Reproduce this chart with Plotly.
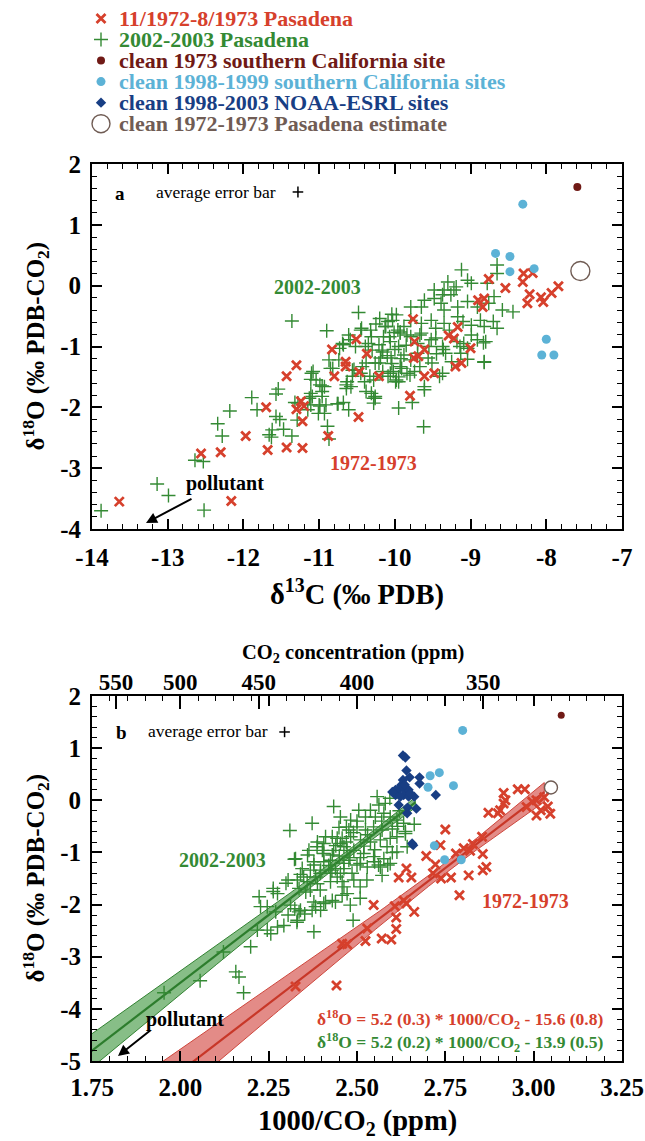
import numpy as np
import plotly.graph_objects as go

W, H = 645, 1141
FONT = "Liberation Serif"
RED = "rgb(214,64,44)"
GREEN = "rgb(52,138,52)"
DKRED = "rgb(112,26,22)"
LTBLUE = "rgb(92,178,214)"
DKBLUE = "rgb(24,62,132)"
CIRC = "rgb(112,92,84)"

# ---------------- Panel a data (d13C, d18O) ----------------
red_a_x = [-13.64, -12.16, -12.56, -12.30, -11.97, -11.68, -11.43, -11.22, -10.88, -11.70,
           -11.30, -11.24, -11.20, -11.22, -10.48, -11.43, -11.30, -10.83, -10.80, -10.51,
           -10.65, -10.65, -10.37, -10.47, -10.21, -9.74, -9.75, -9.69, -9.61, -9.61,
           -9.48, -9.80, -9.29, -9.22, -9.20, -9.12, -9.00, -9.76, -9.17, -8.90,
           -8.82, -8.84, -8.76, -8.54, -8.31, -8.30, -8.18, -8.22, -8.25, -8.07,
           -8.04, -7.93, -7.84]
red_a_y = [-3.55, -3.54, -2.76, -2.74, -2.47, -2.70, -2.66, -2.67, -2.47, -2.00,
           -2.03, -1.90, -1.98, -2.23, -2.16, -1.49, -1.31, -1.05, -1.49, -0.88,
           -1.25, -1.33, -1.12, -1.42, -1.49, -0.92, -1.19, -1.16, -1.05, -1.49,
           -1.44, -1.81, -0.82, -0.87, -1.33, -1.27, -1.03, -0.55, -0.68, -0.24,
           -0.21, -0.35, 0.11, -0.04, 0.06, 0.20, 0.21, -0.14, -0.29, -0.19,
           -0.27, -0.12, -0.01]

green_a_x = [-13.88, -13.14, -12.99, -12.52, -12.64, -12.53, -12.34, -12.28, -12.18, -11.89,
             -11.82, -11.57, -11.54, -11.57, -11.52, -11.47, -11.36, -11.66, -11.63, -11.62,
             -11.29, -11.32, -11.15, -11.11, -10.99, -10.96, -10.96, -10.89, -10.87, -11.01,
             -10.93, -11.11, -11.11, -11.08, -10.99, -11.13, -10.75, -10.68, -10.61, -10.64,
             -10.63, -10.64, -10.56, -10.40, -10.31, -10.28, -10.33, -10.21, -10.16, -10.09,
             -9.99, -9.95, -9.62, -9.61, -9.77, -10.05, -10.00, -9.88, -9.51, -9.41,
             -9.56, -9.36, -9.13, -9.04, -8.82, -8.80, -9.04, -10.87, -10.82, -10.73,
             -10.68, -10.59, -10.45, -10.31, -10.21, -10.07, -9.93, -9.79, -9.65, -9.46,
             -9.18, -8.99, -9.84, -9.74, -9.67, -9.91, -10.02, -10.26, -10.38, -10.45,
             -10.54, -10.38, -10.26, -9.98,
             -11.36, -10.90, -10.48, -10.44, -10.20, -10.25, -10.32, -10.04, -9.98, -10.09,
             -10.01, -9.93, -10.15, -10.06, -9.95, -9.88, -10.61, -10.69, -10.52, -10.39,
             -10.30, -10.17, -10.74, -10.85, -10.56, -10.58, -10.93, -11.04, -11.10, -11.09,
             -10.96, -10.26, -10.28, -10.76, -11.00, -10.91, -11.28, -10.12, -9.84, -10.19,
             -10.04, -9.93, -9.95, -9.95, -10.06, -10.43, -10.28,
             -8.65, -9.12, -9.30, -9.04, -8.99, -8.78, -8.65, -8.44, -8.58, -8.69,
             -8.76, -8.70, -8.65, -8.82, -8.91, -8.83, -8.82, -9.19, -9.22, -9.26,
             -9.37, -9.48, -9.61, -9.65, -9.79, -9.39, -9.35, -9.17, -9.04, -8.91,
             -9.17, -9.10, -8.99, -9.35, -9.52, -9.65, -9.46, -9.28, -10.03, -10.13,
             -9.96, -9.67, -9.52, -9.37, -10.16, -9.92, -9.79, -9.80, -9.37, -9.61,
             -8.87, -9.14, -9.09, -9.33, -9.70, -9.35, -9.48, -9.79,
             -10.35, -9.85, -9.55, -9.70, -10.10, -9.45, -9.25]
green_a_y = [-3.70, -3.26, -3.45, -3.69, -2.87, -2.89, -2.27, -2.47, -2.06, -1.84,
             -2.04, -1.78, -1.70, -2.15, -2.20, -2.36, -2.47, -2.45, -2.49, -2.37,
             -2.21, -1.92, -2.04, -1.96, -1.98, -1.65, -1.74, -2.31, -2.52, -2.10,
             -2.10, -1.77, -1.54, -1.41, -1.63, -1.85, -1.94, -1.92, -2.04, -1.63,
             -1.58, -1.69, -1.49, -1.58, -1.77, -1.85, -1.49, -1.27, -1.41, -1.49,
             -1.58, -2.01, -2.32, -1.71, -1.92, -1.19, -1.05, -1.14, -1.27, -1.49,
             -1.19, -1.05, -1.11, -1.03, -1.26, -0.92, -1.21, -1.22, -1.36, -1.03,
             -0.97, -0.89, -0.73, -0.84, -0.97, -0.84, -0.78, -0.84, -0.78, -0.86,
             -0.92, -0.81, -1.44, -1.41, -1.33, -1.36, -1.41, -1.27, -1.27, -1.44,
             -1.38, -1.74, -1.82, -1.55,
             -0.58, -0.74, -0.44, -0.70, -0.54, -0.63, -0.73, -0.47, -0.48, -0.59,
             -0.77, -0.76, -0.84, -0.92, -1.00, -0.67, -0.81, -0.95, -1.00, -1.00,
             -1.06, -1.06, -1.22, -1.36, -1.39, -1.66, -1.66, -1.55, -1.44, -1.82,
             -1.82, -1.85, -1.93, -1.94, -1.96, -1.96, -1.93, -0.67, -0.81, -1.19,
             -1.28, -1.33, -1.50, -1.58, -1.44, -1.33, -1.55,
             0.34, 0.26, 0.06, 0.09, 0.04, 0.04, 0.20, -0.43, -0.40, -0.18,
             -0.29, -0.59, -0.70, -0.67, -0.89, -0.94, -1.25, -0.02, -0.07, -0.15,
             -0.15, -0.21, -0.24, -0.35, -0.35, -0.29, -0.40, -0.35, -0.26, -0.35,
             -0.51, -0.59, -0.65, -0.62, -0.57, -0.62, -0.70, -0.73, -0.57, -0.67,
             -0.73, -0.81, -0.89, -1.00, -1.09, -1.20, -1.22, -1.47, -1.44, -1.66,
             -0.57, -1.00, -0.95, -1.11, -1.11, -0.07, -0.07, -0.57,
             -0.95, -0.98, -1.00, -0.95, -1.15, -1.12, -1.25]

ltblue_a_x = [-8.67, -8.48, -8.48, -8.16, -8.31, -8.00, -8.06, -7.90]
ltblue_a_y = [0.53, 0.48, 0.23, 0.28, 1.34, -0.88, -1.14, -1.14]
dkred_a_x, dkred_a_y = [-7.59], [1.62]
circ_a_x, circ_a_y = [-7.55], [0.24]

# ---------------- Panel b data (1000/CO2, d18O) ----------------
red_b_x = [2.955, 2.975, 2.915, 3.030, 2.920, 3.008, 2.996, 2.915, 3.040, 2.980,
           2.905, 3.020, 2.872, 3.047, 3.008, 2.750, 2.854, 2.828, 2.736, 2.802,
           2.856, 2.696, 2.722, 2.866, 2.640, 2.856, 2.715, 2.816, 2.618, 2.654,
           2.766, 2.738, 2.790, 2.632, 2.640, 2.547, 2.607, 2.662, 2.611, 2.529,
           2.611, 2.570, 2.597, 2.524, 2.458, 2.472, 2.442, 2.326, 2.780, 2.820,
           2.899]
red_b_y = [0.21, 0.21, 0.14, 0.06, 0.00, 0.00, -0.03, -0.06, -0.12, -0.13,
           -0.19, -0.19, -0.24, -0.26, -0.29, -0.56, -0.70, -0.84, -0.86, -0.92,
           -1.03, -1.07, -1.23, -1.28, -1.31, -1.34, -1.40, -1.44, -1.48, -1.48,
           -1.48, -1.50, -1.82, -1.92, -1.98, -2.01, -2.03, -2.14, -2.25, -2.46,
           -2.47, -2.65, -2.67, -2.70, -2.75, -2.76, -3.55, -3.57, -1.02, -0.97,
           -0.25]

green_b_x = [2.373, 2.310, 2.323, 2.345, 2.340, 2.364, 2.388, 2.402, 2.378, 2.406,
             2.397, 2.430, 2.444, 2.470, 2.453, 2.411, 2.439, 2.463, 2.444, 2.458,
             2.425, 2.383, 2.359, 2.305, 2.331, 2.336, 2.263, 2.275, 2.223, 2.227,
             2.246, 2.270, 2.305, 2.336, 2.352, 2.331, 2.293, 2.275, 2.246, 2.256,
             2.378, 2.383, 2.406, 2.430, 2.397, 2.312, 2.199, 2.388, 2.472, 2.477,
             2.463, 2.425, 2.355,
             2.557, 2.593, 2.562, 2.538, 2.505, 2.524, 2.552, 2.576, 2.594, 2.613,
             2.632, 2.662, 2.637, 2.613, 2.594, 2.571, 2.547, 2.524, 2.500, 2.477,
             2.449, 2.430, 2.458, 2.482, 2.510, 2.538, 2.566, 2.585, 2.613, 2.642,
             2.637, 2.406, 2.387, 2.406, 2.434, 2.463, 2.491, 2.519, 2.547, 2.576,
             2.594, 2.566, 2.529, 2.500, 2.463, 2.425, 2.378, 2.326, 2.434, 2.580,
             2.482, 2.453,
             2.489, 2.439, 2.411, 2.481, 2.378, 2.509, 2.472, 2.458, 2.396, 2.368,
             2.528, 2.509, 2.491, 2.571, 2.561, 2.587, 2.509, 2.486, 2.453, 2.429,
             2.396, 2.368, 2.349, 2.340, 2.373,
             1.954, 2.056, 2.122, 2.157, 2.166, 2.179, 2.218, 2.263, 2.299, 2.324,
             2.330,
             2.520, 2.550, 2.600, 2.490, 2.450, 2.530, 2.570, 2.620, 2.510, 2.480,
             2.440, 2.600, 2.420, 2.360, 2.500, 2.615, 2.550, 2.470]
green_b_y = [-0.44, -0.58, -1.13, -1.31, -1.42, -0.96, -0.80, -0.96, -1.18, -1.18,
             -1.34, -1.05, -0.73, -0.51, -0.83, -0.70, -1.31, -1.31, -1.47, -1.56,
             -1.56, -1.47, -1.56, -1.53, -1.53, -1.69, -1.69, -1.79, -1.85, -2.04,
             -2.04, -2.14, -2.20, -2.14, -2.18, -2.30, -2.40, -2.43, -2.49, -2.56,
             -2.52, -2.04, -1.98, -1.92, -2.11, -2.01, -2.81, -1.60, -0.96, -1.15,
             -1.66, -1.40, -1.76,
             0.07, 0.04, -0.09, -0.19, -0.19, -0.32, -0.32, -0.25, -0.32, -0.38,
             -0.44, -0.46, -0.60, -0.70, -0.73, -0.57, -0.51, -0.57, -0.51, -0.57,
             -0.52, -0.70, -0.73, -0.70, -0.76, -0.80, -0.76, -0.89, -0.99, -0.89,
             -0.64, -0.83, -0.89, -1.02, -0.96, -0.89, -0.96, -1.02, -1.08, -1.12,
             -1.21, -1.28, -1.28, -1.24, -1.21, -1.15, -1.24, -1.12, -0.12, -0.06,
             -0.38, -0.32,
             -2.30, -1.95, -1.95, -2.01, -1.95, -1.88, -1.79, -1.82, -1.72, -1.72,
             -1.53, -1.66, -1.53, -1.44, -1.24, -1.24, -1.21, -1.40, -1.40, -1.34,
             -1.40, -1.34, -1.47, -2.11, -2.11,
             -3.69, -3.46, -2.91, -3.29, -3.39, -3.69, -2.49, -1.75, -1.59, -2.08,
             -2.34,
             -0.88, -0.95, -0.55, -0.62, -1.07, -0.66, -0.40, -0.20, -1.10, -1.10,
             -0.87, -1.00, -1.25, -1.05, -0.40, -0.50, -1.18, -0.80]

ltblue_b_x = [2.799, 2.707, 2.733, 2.701, 2.773, 2.719, 2.748, 2.795]
ltblue_b_y = [1.34, 0.47, 0.53, 0.25, 0.28, -0.87, -1.14, -1.14]
dkblue_b_x = [2.630, 2.637, 2.640, 2.649, 2.677, 2.677, 2.630, 2.625, 2.618, 2.609,
              2.637, 2.646, 2.632, 2.609, 2.623, 2.646, 2.662, 2.723, 2.618, 2.643,
              2.668, 2.642, 2.656, 2.659, 2.651, 2.635, 2.600]
dkblue_b_y = [0.86, 0.82, 0.57, 0.44, 0.44, 0.32, 0.39, 0.29, 0.20, 0.20,
              0.20, 0.20, 0.10, 0.10, 0.07, 0.07, 0.07, 0.10, -0.09, -0.14,
              -0.16, -0.25, -0.83, -0.86, 0.13, 0.30, 0.16]
dkred_b_x, dkred_b_y = [3.078], [1.63]
circ_b_x, circ_b_y = [3.049], [0.245]

# regression fits (panel b): slope, intercept, band parameters
red_fit = dict(slope=5.2, icpt=-15.6, xmin=1.95, xmax=3.03, xbar=2.75, s0=0.10, s1=0.55)
green_fit = dict(slope=5.2, icpt=-13.9, xmin=1.70, xmax=2.665, xbar=2.50, s0=0.07, s1=0.42)

co2_ticks = [550, 500, 450, 400, 350]
xa_ticks = [-14, -13, -12, -11, -10, -9, -8, -7]
ya_ticks = [-4, -3, -2, -1, 0, 1, 2]
xb_ticks = [1.75, 2.00, 2.25, 2.50, 2.75, 3.00, 3.25]
yb_ticks = [-5, -4, -3, -2, -1, 0, 1, 2]

# ---------------- figure ----------------
def px(x):
    return x / W

def py(y):
    return 1 - y / H

XD = [px(92), px(622)]
YA = [py(529), py(164)]
YB = [py(1061), py(696)]
LEG_BOTTOM = 140

fig = go.Figure()

XM = dict(symbol="x-thin", size=9, color=RED, line=dict(width=2.8, color=RED))
PM = dict(symbol="cross-thin", size=10, color=GREEN, line=dict(width=1.4, color=GREEN))

def xmark(x, y, xa, ya):
    fig.add_trace(go.Scatter(x=x, y=y, xaxis=xa, yaxis=ya, mode="markers", showlegend=False,
                             marker=XM))

def plus(x, y, xa, ya):
    fig.add_trace(go.Scatter(x=x, y=y, xaxis=xa, yaxis=ya, mode="markers", showlegend=False,
                             marker=PM))

def dots(x, y, xa, ya, color, size, symbol="circle"):
    fig.add_trace(go.Scatter(x=x, y=y, xaxis=xa, yaxis=ya, mode="markers", showlegend=False,
                             marker=dict(symbol=symbol, size=size, color=color, line=dict(width=0))))

def opencirc(x, y, xa, ya, size):
    fig.add_trace(go.Scatter(x=x, y=y, xaxis=xa, yaxis=ya, mode="markers", showlegend=False,
                             marker=dict(symbol="circle-open", size=size, color=CIRC,
                                         line=dict(width=1.4, color=CIRC))))

def errplus(x, y, ex, ey, xa, ya):
    fig.add_trace(go.Scatter(x=[x], y=[y], xaxis=xa, yaxis=ya, mode="markers", showlegend=False,
                             marker=dict(size=1, color="black"),
                             error_x=dict(type="data", array=[ex], width=0, thickness=1.5, color="black"),
                             error_y=dict(type="data", array=[ey], width=0, thickness=1.5, color="black")))

# Panel a
plus(green_a_x, green_a_y, "x", "y")
xmark(red_a_x, red_a_y, "x", "y")
dots(ltblue_a_x, ltblue_a_y, "x", "y", LTBLUE, 9)
dots(dkred_a_x, dkred_a_y, "x", "y", DKRED, 8)
opencirc(circ_a_x, circ_a_y, "x", "y", 19)
errplus(-11.28, 1.54, 0.07, 0.09, "x", "y")

# Panel b bands
def band(p, fill, edge, line):
    xs = np.linspace(p["xmin"], p["xmax"], 80)
    yc = p["slope"] * xs + p["icpt"]
    hw = np.sqrt(p["s0"] ** 2 + ((xs - p["xbar"]) * p["s1"]) ** 2)
    fig.add_trace(go.Scatter(x=np.concatenate([xs, xs[::-1]]).tolist(),
                             y=np.concatenate([yc + hw, (yc - hw)[::-1]]).tolist(),
                             xaxis="x2", yaxis="y2", mode="lines", fill="toself",
                             fillcolor=fill, line=dict(color=edge, width=1), showlegend=False))
    fig.add_trace(go.Scatter(x=xs.tolist(), y=yc.tolist(), xaxis="x2", yaxis="y2", mode="lines",
                             line=dict(color=line, width=2.2), showlegend=False))

band(green_fit, "rgba(70,155,70,0.65)", "rgb(50,130,50)", "rgb(45,125,45)")
band(red_fit, "rgba(218,100,95,0.75)", "rgb(205,70,60)", "rgb(200,55,40)")

plus(green_b_x, green_b_y, "x2", "y2")
xmark(red_b_x, red_b_y, "x2", "y2")
dots(dkblue_b_x, dkblue_b_y, "x2", "y2", DKBLUE, 8, "diamond")
dots(ltblue_b_x, ltblue_b_y, "x2", "y2", LTBLUE, 9)
dots(dkred_b_x, dkred_b_y, "x2", "y2", DKRED, 7)
opencirc(circ_b_x, circ_b_y, "x2", "y2", 13)
errplus(2.295, 1.31, 0.015, 0.1, "x2", "y2")

# invisible trace for the top CO2 axis
fig.add_trace(go.Scatter(x=[2.5], y=[0], xaxis="x3", yaxis="y2", mode="markers",
                         marker=dict(size=1, opacity=0), showlegend=False, hoverinfo="skip"))

# Legend (manual): symbols on a hidden pixel axis, text as one multi-line block
LEG_SPACING = 21.06
LEG_BASE = LEG_SPACING / 1.3
legend_rows = [18.4 + i * LEG_SPACING for i in range(6)]
legend_items = [
    ("11/1972-8/1973 Pasadena", RED, XM),
    ("2002-2003 Pasadena", GREEN, PM),
    ("clean 1973 southern California site", DKRED, dict(symbol="circle", size=8, color=DKRED)),
    ("clean 1998-1999 southern California sites", LTBLUE, dict(symbol="circle", size=9, color=LTBLUE)),
    ("clean 1998-2003 NOAA-ESRL sites", DKBLUE, dict(symbol="diamond", size=8, color=DKBLUE)),
    ("clean 1972-1973 Pasadena estimate", CIRC, dict(symbol="circle-open", size=18, color=CIRC, line=dict(width=1.4, color=CIRC))),
]
annotations = []
lines = []
for (label, col, mk), row in zip(legend_items, legend_rows):
    fig.add_trace(go.Scatter(x=[101], y=[row], xaxis="x4", yaxis="y4", mode="markers",
                             marker=mk, showlegend=False, hoverinfo="skip"))
    lines.append("<span style='color:%s;font-size:22px'><b>%s</b></span>" % (col, label))
annotations.append(dict(x=px(117), y=py(sum(legend_rows) / 6.0), xref="paper", yref="paper",
                        xanchor="left", yanchor="middle", align="left", showarrow=False,
                        text="<br>".join(lines),
                        font=dict(family=FONT, size=LEG_BASE, color="black")))

def txt(x, y, s, size, color="black", xanchor="center", angle=0):
    annotations.append(dict(x=px(x), y=py(y), xref="paper", yref="paper", xanchor=xanchor,
                            yanchor="middle", showarrow=False, text=s, textangle=angle,
                            font=dict(family=FONT, size=size, color=color)))

def arrow(hx, hy, tx, ty):
    annotations.append(dict(x=px(hx), y=py(hy), xref="paper", yref="paper", ax=tx - hx, ay=ty - hy,
                            axref="pixel", ayref="pixel", text="", showarrow=True, arrowhead=2,
                            arrowsize=1.1, arrowwidth=2, arrowcolor="black"))

# Panel a annotations
txt(120, 193, "<b>a</b>", 19)
txt(216, 192, "average error bar", 17.5)
txt(317, 287, "<b>2002-2003</b>", 20, GREEN)
txt(373, 463, "<b>1972-1973</b>", 20, RED)
txt(225, 483, "<b>pollutant</b>", 20)
arrow(146, 523, 193, 498)
txt(357, 592, "<b>δ<sup>13</sup>C (‰ PDB)</b>", 28.5)
txt(35, 346.5, "<b>δ<sup>18</sup>O (‰ PDB-CO<sub>2</sub>)</b>", 25, angle=-90)

# Panel b annotations
txt(121, 732, "<b>b</b>", 19)
txt(208, 731, "average error bar", 17.5)
txt(222.5, 860, "<b>2002-2003</b>", 20, GREEN)
txt(525, 901, "<b>1972-1973</b>", 20, RED)
txt(185, 1019, "<b>pollutant</b>", 20)
arrow(118, 1056, 152, 1029)
txt(605, 1019, "<b>δ<sup>18</sup>O = 5.2 (0.3) * 1000/CO<sub>2</sub> - 15.6 (0.8)</b>", 17.5, RED, "right")
txt(605, 1042, "<b>δ<sup>18</sup>O = 5.2 (0.2) * 1000/CO<sub>2</sub> - 13.9 (0.5)</b>", 17.5, GREEN, "right")
txt(353, 653, "<b>CO<sub>2</sub> concentration (ppm)</b>", 20.5)
txt(357, 1122, "<b>1000/CO<sub>2</sub> (ppm)</b>", 28.5)
txt(35, 878.5, "<b>δ<sup>18</sup>O (‰ PDB-CO<sub>2</sub>)</b>", 25, angle=-90)

tickfont = dict(family=FONT, size=25, color="black")

def axis(domain, anchor, rng, major, labels, minor_step, standoff):
    n = int(round((rng[1] - rng[0]) / minor_step))
    minors = [round(rng[0] + i * minor_step, 4) for i in range(n + 1)]
    return dict(domain=domain, anchor=anchor, range=rng, tickmode="array", tickvals=major,
                ticktext=["<b>%s</b>" % t for t in labels], automargin=False,
                showgrid=False, zeroline=False, showline=True, linewidth=2, linecolor="black",
                ticks="inside", ticklen=10, tickwidth=1.5, tickcolor="black", mirror="ticks",
                tickfont=tickfont, ticklabelstandoff=standoff,
                minor=dict(tickmode="array", tickvals=minors, ticks="inside", ticklen=5,
                           tickwidth=1, tickcolor="black", showgrid=False))

fig.update_layout(
    width=W, height=H, margin=dict(l=0, r=0, t=0, b=0, pad=0), autosize=False,
    paper_bgcolor="white", plot_bgcolor="rgba(0,0,0,0)", showlegend=False,
    xaxis=axis(XD, "y", [-14, -7], xa_ticks, [str(v) for v in xa_ticks], 0.2, 5),
    yaxis=axis(YA, "x", [-4, 2], ya_ticks, [str(v) for v in ya_ticks], 0.2, 4),
    xaxis2=axis(XD, "y2", [1.75, 3.25], xb_ticks, ["%.2f" % v for v in xb_ticks], 0.05, 3),
    yaxis2=axis(YB, "x2", [-5, 2], yb_ticks, [str(v) for v in yb_ticks], 0.2, 4),
    xaxis3=dict(overlaying="x2", anchor="y2", side="top", range=[1.75, 3.25], tickmode="array",
                tickvals=[1000.0 / c for c in co2_ticks], ticktext=["<b>%d</b>" % c for c in co2_ticks],
                ticks="inside", ticklen=13, tickwidth=1.5, tickcolor="black", showgrid=False,
                zeroline=False, showline=False, automargin=False,
                tickfont=dict(family=FONT, size=23, color="black")),
    xaxis4=dict(domain=[0, 1], anchor="y4", range=[0, W], visible=False),
    yaxis4=dict(domain=[py(LEG_BOTTOM), 1], anchor="x4", range=[LEG_BOTTOM, 0], visible=False),
    annotations=annotations,
)

fig.write_html("out.html", config={"displayModeBar": False},
               post_script="document.body.style.margin='0';document.body.style.overflow='hidden';")
